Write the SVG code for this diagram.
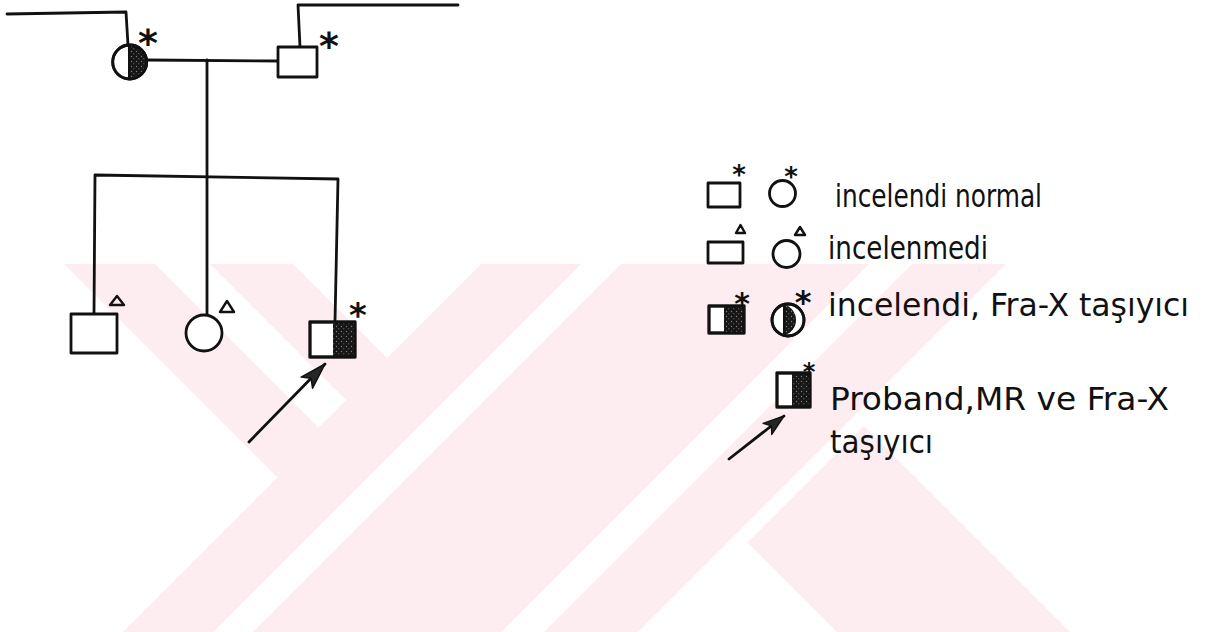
<svg xmlns="http://www.w3.org/2000/svg" width="1213" height="632" viewBox="0 0 1213 632">
<style>
.ln{fill:none;stroke:#111;stroke-width:2.8;stroke-linecap:round;stroke-linejoin:round}
.sym{fill:#fff;stroke:#111;stroke-width:2.8;stroke-linejoin:round}
.fill{fill:url(#stip);stroke:none}
.tri{fill:none;stroke:#111;stroke-width:2.4;stroke-linejoin:round}
.ast{font-family:"DejaVu Sans",sans-serif;font-weight:bold;fill:#111;text-anchor:middle}
.lbl{font-family:"DejaVu Sans Condensed","DejaVu Sans",sans-serif;font-size:32px;fill:#111}
.wm{fill:#fdedf0}
.wmw{fill:#fff}
</style>
<defs>
<pattern id="stip" width="5" height="5" patternUnits="userSpaceOnUse">
<rect width="5" height="5" fill="#161616"/>
<circle cx="1.5" cy="1.5" r="0.7" fill="#808080"/>
<circle cx="3.8" cy="3.7" r="0.5" fill="#9a9a9a"/>
</pattern>
<marker id="ah" markerUnits="userSpaceOnUse" orient="auto" overflow="visible" refX="0" refY="0" markerWidth="1" markerHeight="1">
<path d="M0,0 L-26,-8 L-20,0 L-26,8 Z" fill="#262626" stroke="#111" stroke-width="1.5" stroke-linejoin="round"/>
</marker>
<marker id="ahs" markerUnits="userSpaceOnUse" orient="auto" overflow="visible" refX="0" refY="0" markerWidth="1" markerHeight="1">
<path d="M0,0 L-21,-7 L-16,0 L-21,7 Z" fill="#262626" stroke="#111" stroke-width="1.4" stroke-linejoin="round"/>
</marker>
</defs>
<rect width="1213" height="632" fill="#fff"/>
<g id="watermark">
<polygon class="wm" points="64,264 1006,264 638,632 123,632 277.5,477.5"/>
<polygon class="wm" points="747.5,542.5 864,426 1070,632 837,632"/>
<polygon class="wmw" points="155,264 210,264 346,400 318.5,427.5"/>
<polygon class="wmw" points="293,264 481,264 387,358"/>
<polygon class="wmw" points="581,264 621,264 253,632 213,632"/>
<polygon class="wmw" points="869,264 912,264 544,632 501,632"/>
</g>
<g id="connectors">
<path class="ln" d="M7,14 L126,12 L128,45"/>
<path class="ln" d="M458,5 L298,5 L300,47"/>
<path class="ln" d="M147,60 L278,61"/>
<path class="ln" d="M207,60 L207,315"/>
<path class="ln" d="M94,314 L95,175 L338,179 L335,322"/>
<path class="ln" d="M249,442 L325,364" marker-end="url(#ah)"/>
<path class="ln" d="M729,459 L784,416" marker-end="url(#ahs)"/>
</g>
<g id="mother">
<circle class="sym" cx="129.7" cy="62" r="17"/>
<path class="fill" d="M129.7,45 A17,17 0 0 1 129.7,79 Z"/>
<circle cx="129.7" cy="62" r="17" fill="none" stroke="#111" stroke-width="2.8"/>
<line x1="129" y1="45" x2="129" y2="79" stroke="#111" stroke-width="2"/>
<text class="ast" x="148" y="56" font-size="38">*</text>
</g>
<g id="father">
<rect class="sym" x="278" y="47" width="39" height="30"/>
<text class="ast" x="329" y="59" font-size="38">*</text>
</g>
<g id="son1">
<rect class="sym" x="71" y="314" width="46" height="39"/>
<polygon class="tri" points="110,305 124,305 117,296"/>
</g>
<g id="daughter">
<circle class="sym" cx="204" cy="333" r="18"/>
<polygon class="tri" points="220,312 234,312 227,301"/>
</g>
<g id="proband">
<rect class="sym" x="310" y="322" width="45" height="35"/>
<rect class="fill" x="333" y="322" width="22" height="35"/>
<rect x="310" y="322" width="45" height="35" fill="none" stroke="#111" stroke-width="2.8"/>
<text class="ast" x="358" y="327" font-size="34">*</text>
</g>
<g id="legend-examined-normal">
<rect class="sym" x="708" y="183" width="32" height="24"/>
<text class="ast" x="739" y="184" font-size="26">*</text>
<circle class="sym" cx="782.5" cy="193.5" r="13"/>
<text class="ast" x="791" y="186" font-size="26">*</text>
<text class="lbl" x="835" y="207" textLength="207" lengthAdjust="spacingAndGlyphs">incelendi normal</text>
</g>
<g id="legend-not-examined">
<rect class="sym" x="708" y="242" width="35" height="21"/>
<polygon class="tri" points="736,233 745,233 740.5,225"/>
<circle class="sym" cx="786.5" cy="254" r="13.5"/>
<polygon class="tri" points="795,235 805,235 800,227"/>
<text class="lbl" x="828" y="259" textLength="160" lengthAdjust="spacingAndGlyphs">incelenmedi</text>
</g>
<g id="legend-carrier">
<rect class="sym" x="709" y="306" width="35" height="27"/>
<rect class="fill" x="724" y="306" width="20" height="27"/>
<rect x="709" y="306" width="35" height="27" fill="none" stroke="#111" stroke-width="2.8"/>
<text class="ast" x="742" y="314" font-size="30">*</text>
<circle class="sym" cx="788" cy="320" r="16"/>
<path class="fill" d="M784,304.5 A16,16 0 0 1 784,335.5 Z"/>
<circle cx="788" cy="320" r="16" fill="none" stroke="#111" stroke-width="2.8"/>
<line x1="784" y1="305" x2="784" y2="335" stroke="#111" stroke-width="2"/>
<text class="ast" x="803" y="313" font-size="32">*</text>
<text class="lbl" x="828" y="316" textLength="361" lengthAdjust="spacingAndGlyphs">incelendi, Fra-X taşıyıcı</text>
</g>
<g id="legend-proband">
<rect class="sym" x="777" y="373" width="33" height="34"/>
<rect class="fill" x="792" y="373" width="18" height="34"/>
<rect x="777" y="373" width="33" height="34" fill="none" stroke="#111" stroke-width="2.8"/>
<text class="ast" x="809" y="380" font-size="24">*</text>
<text class="lbl" x="830" y="410" textLength="339" lengthAdjust="spacingAndGlyphs">Proband,MR ve Fra-X</text>
<text class="lbl" x="830" y="453" textLength="103" lengthAdjust="spacingAndGlyphs">taşıyıcı</text>
</g>
</svg>
